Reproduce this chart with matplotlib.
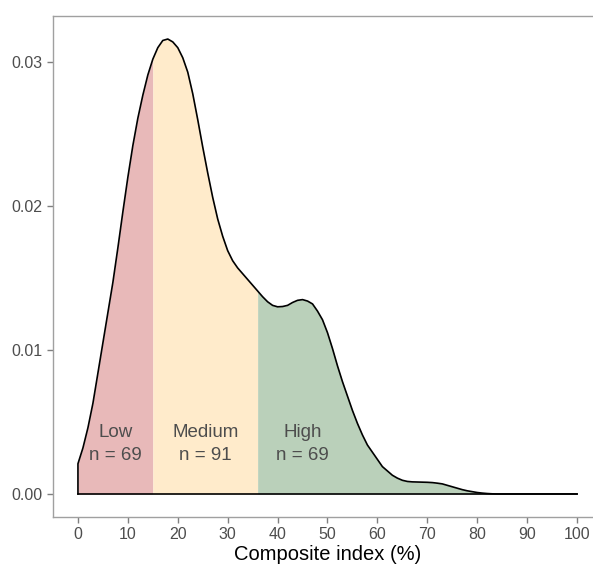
import matplotlib
matplotlib.use("Agg")
import matplotlib.pyplot as plt
import numpy as np

plt.rcParams['font.family'] = ['Liberation Sans', 'DejaVu Sans']

# Density curve
x_vals = list(range(0, 86)) + [90, 95, 100]
density = [0.0021, 0.0032, 0.0046, 0.0063, 0.0084, 0.0105, 0.0126, 0.0147, 0.0171, 0.0196,
           0.0220, 0.0242, 0.0261, 0.0277, 0.0291, 0.0302, 0.0310, 0.0315, 0.0316, 0.0314,
           0.0310, 0.0303, 0.0293, 0.0278, 0.0260, 0.0241, 0.0223, 0.0206, 0.0191, 0.0179,
           0.0169, 0.0162, 0.0157, 0.0153, 0.0149, 0.0145, 0.0141, 0.0137, 0.01335, 0.0131,
           0.0130, 0.01302, 0.0131, 0.0133, 0.01345, 0.0135, 0.0134, 0.0132, 0.0127, 0.0121,
           0.0112, 0.0101, 0.0089, 0.0078, 0.0068, 0.0058, 0.0049, 0.0041, 0.0034, 0.0029,
           0.0024, 0.0019, 0.0016, 0.0013, 0.0011, 0.00095, 0.00087, 0.00084, 0.00083, 0.00082,
           0.00081, 0.00079, 0.00075, 0.0007, 0.0006, 0.0005, 0.0004, 0.0003, 0.00022, 0.00016,
           0.0001, 0.00006, 0.00003, 0.00001, 0.0, 0.0, 0.0, 0.0, 0.0]

groups = ["Low", "Medium", "High"]
group_counts = [69, 91, 69]
group_bounds = [(0, 15), (15, 36), (36, 85)]
group_colors = ["#E8B9B9", "#FFEBCB", "#BAD0BA"]
label_x = [7.5, 25.5, 45]
label_y = 0.0035

x_ticks = list(range(0, 101, 10))
y_ticks = [0.0, 0.01, 0.02, 0.03]
y_ticklabels = ["0.00", "0.01", "0.02", "0.03"]

fig = plt.figure(figsize=(5.93, 5.67), dpi=100)
ax = fig.add_axes([53/593, 50/567, (602-53)/593, (551-50)/567])

x = np.array(x_vals, dtype=float)
y = np.array(density)

for (lo, hi), c in zip(group_bounds, group_colors):
    m = (x >= lo) & (x <= hi)
    ax.fill_between(x[m], 0, y[m], color=c, linewidth=0, zorder=1)

ax.plot(np.concatenate([[0], x]), np.concatenate([[0], y]), color="black", lw=1.2, zorder=3,
        solid_joinstyle="round")
ax.plot([0, 100], [0, 0], color="black", lw=1.2, zorder=3)

for g, n, lx in zip(groups, group_counts, label_x):
    ax.text(lx, label_y, f"{g}\nn = {n}", ha="center", va="center", fontsize=13.5,
            color="#4D4D4D", linespacing=1.45, zorder=4)

ax.set_xlim(-5, 105)
ax.set_ylim(-0.0016, 0.0332)
ax.set_xticks(x_ticks)
ax.set_yticks(y_ticks)
ax.set_yticklabels(y_ticklabels)
ax.tick_params(colors="#7F7F7F", labelcolor="#4D4D4D", labelsize=11.5, length=4, width=1)
for s in ax.spines.values():
    s.set_color("#A0A0A0")
    s.set_linewidth(1)
ax.set_xlabel("Composite index (%)", fontsize=14.5, color="black", labelpad=2)

fig.savefig("out.png", dpi=100)
